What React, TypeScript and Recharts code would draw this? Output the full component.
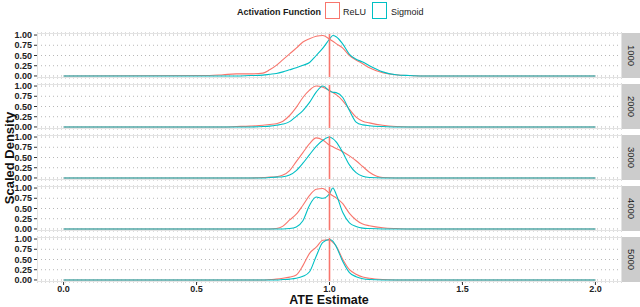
import React from "react";
import {
  LineChart,
  Line,
  XAxis,
  YAxis,
  CartesianGrid,
  ReferenceLine,
} from "recharts";

// ATE estimate grid (shared by every panel)
const X = [
  0, 0.55, 0.6, 0.65, 0.7, 0.75, 0.775, 0.8, 0.825, 0.85, 0.875, 0.9, 0.925,
  0.95, 0.975, 1.0, 1.0125, 1.025, 1.05, 1.075, 1.1, 1.125, 1.15, 1.2, 1.25,
  1.3, 1.35, 2.0,
];

const SAMPLE_SIZES = ["1000", "2000", "3000", "4000", "5000"];

// scaled densities
const RELU_1000 = [0, 0.01, 0.03, 0.05, 0.05, 0.07, 0.15, 0.26, 0.4, 0.54, 0.68, 0.83, 0.91, 0.97, 0.99, 0.9, 0.85, 0.79, 0.68, 0.5, 0.39, 0.3, 0.2, 0.08, 0.03, 0.01, 0, 0];
const SIG_1000 = [0, 0, 0, 0, 0.01, 0.02, 0.04, 0.06, 0.1, 0.15, 0.2, 0.26, 0.33, 0.5, 0.68, 0.9, 0.99, 0.96, 0.78, 0.53, 0.41, 0.34, 0.25, 0.1, 0.03, 0.01, 0, 0];
const RELU_2000 = [0, 0, 0, 0.01, 0.02, 0.04, 0.06, 0.08, 0.14, 0.28, 0.48, 0.72, 0.9, 1.0, 0.97, 0.89, 0.84, 0.79, 0.64, 0.43, 0.24, 0.14, 0.1, 0.04, 0.01, 0, 0, 0];
const SIG_2000 = [0, 0, 0, 0, 0, 0.01, 0.02, 0.04, 0.07, 0.13, 0.26, 0.4, 0.6, 0.85, 1.0, 0.88, 0.85, 0.84, 0.72, 0.4, 0.12, 0.05, 0.03, 0.01, 0, 0, 0, 0];
const RELU_3000 = [0, 0, 0, 0, 0, 0.01, 0.02, 0.03, 0.07, 0.18, 0.4, 0.62, 0.84, 0.98, 0.93, 0.8, 0.76, 0.72, 0.64, 0.54, 0.42, 0.28, 0.14, 0.01, 0, 0, 0, 0];
const SIG_3000 = [0, 0, 0, 0, 0, 0, 0.01, 0.02, 0.03, 0.07, 0.18, 0.36, 0.57, 0.77, 0.92, 1.0, 0.96, 0.88, 0.62, 0.32, 0.13, 0.04, 0.01, 0, 0, 0, 0, 0];
const RELU_4000 = [0, 0, 0, 0, 0, 0, 0, 0.01, 0.07, 0.22, 0.36, 0.58, 0.82, 0.97, 0.99, 0.87, 0.81, 0.76, 0.62, 0.38, 0.22, 0.12, 0.08, 0.03, 0.01, 0, 0, 0];
const SIG_4000 = [0, 0, 0, 0, 0, 0, 0, 0, 0, 0.01, 0.05, 0.2, 0.58, 0.78, 0.75, 0.86, 1.0, 0.85, 0.4, 0.15, 0.06, 0.02, 0.01, 0, 0, 0, 0, 0];
const RELU_5000 = [0, 0, 0, 0, 0, 0, 0.01, 0.02, 0.04, 0.07, 0.12, 0.35, 0.65, 0.8, 0.97, 0.98, 0.92, 0.83, 0.5, 0.25, 0.14, 0.07, 0.04, 0.01, 0, 0, 0, 0];
const SIG_5000 = [0, 0, 0, 0, 0, 0, 0, 0, 0.01, 0.02, 0.04, 0.09, 0.2, 0.58, 0.92, 0.99, 0.95, 0.82, 0.45, 0.18, 0.08, 0.03, 0.01, 0, 0, 0, 0, 0];

const RELU = [RELU_1000, RELU_2000, RELU_3000, RELU_4000, RELU_5000];
const SIG = [SIG_1000, SIG_2000, SIG_3000, SIG_4000, SIG_5000];

const X_TICKS = [0, 0.5, 1, 1.5, 2];
const Y_TICKS = [0, 0.25, 0.5, 0.75, 1];

const RED = "#F8766D";
const TEAL = "#00BFC4";
const FONT = "'Liberation Sans', Arial, Helvetica, sans-serif";

const TOP = 33;
const PANEL_H = 45;
const PITCH = 51;
const PLOT_L = 37;
const PLOT_R = 622;
const PAD = 6; // room so the 1.00 / 0.00 labels are not clipped

function Panel({ idx }: { idx: number }) {
  const last = idx === SAMPLE_SIZES.length - 1;
  const rows = X.map((x, i) => ({ x, relu: RELU[idx][i], sig: SIG[idx][i] }));
  const top = TOP + idx * PITCH;
  const tick = { fontSize: 9, fontWeight: 700, fill: "#222", fontFamily: FONT };
  return (
    <>
      <div style={{ position: "absolute", left: 0, top: top - PAD }}>
        <LineChart
          width={PLOT_R}
          height={PANEL_H + 2 * PAD + (last ? 16 : 0)}
          data={rows}
          margin={{ top: PAD, right: 0, bottom: PAD, left: 0 }}
        >
          <CartesianGrid vertical={false} stroke="#b8b8b8" strokeDasharray="1 3" />
          <XAxis
            type="number"
            dataKey="x"
            domain={[-0.1, 2.1]}
            ticks={X_TICKS}
            tickFormatter={(v: number) => v.toFixed(1)}
            hide={!last}
            height={16}
            tickSize={3}
            tickMargin={1}
            axisLine={false}
            tickLine={{ stroke: "#333" }}
            tick={tick}
            interval={0}
          />
          <YAxis
            type="number"
            domain={[-0.05, 1.05]}
            ticks={Y_TICKS}
            tickFormatter={(v: number) => v.toFixed(2)}
            width={PLOT_L}
            tickSize={3}
            tickMargin={2}
            axisLine={false}
            tickLine={{ stroke: "#333" }}
            tick={tick}
            interval={0}
          />
          <Line
            type="monotone"
            dataKey="relu"
            stroke={RED}
            strokeWidth={1.1}
            dot={false}
            activeDot={false}
            isAnimationActive={false}
          />
          <Line
            type="monotone"
            dataKey="sig"
            stroke={TEAL}
            strokeWidth={1.1}
            dot={false}
            activeDot={false}
            isAnimationActive={false}
          />
          <ReferenceLine x={1} stroke={RED} strokeWidth={1.6} ifOverflow="hidden" />
        </LineChart>
      </div>
      <div
        style={{
          position: "absolute",
          left: PLOT_L,
          top,
          width: PLOT_R - PLOT_L,
          height: PANEL_H,
          border: "1px solid #e3e3e3",
          boxSizing: "border-box",
          pointerEvents: "none",
        }}
      />
      <div
        style={{
          position: "absolute",
          left: PLOT_R,
          top,
          width: 640 - PLOT_R,
          height: PANEL_H,
          background: "#cccccc",
          display: "flex",
          alignItems: "center",
          justifyContent: "center",
          writingMode: "vertical-rl",
          fontFamily: FONT,
          fontSize: 9.5,
          color: "#1a1a1a",
        }}
      >
        {SAMPLE_SIZES[idx]}
      </div>
    </>
  );
}

export default function App() {
  return (
    <div
      style={{
        position: "absolute",
        left: 0,
        top: 0,
        width: 640,
        height: 307,
        background: "#fff",
        overflow: "hidden",
        fontFamily: FONT,
      }}
    >
      {SAMPLE_SIZES.map((_, i) => (
        <Panel key={i} idx={i} />
      ))}
      <svg
        width={640}
        height={307}
        style={{ position: "absolute", left: 0, top: 0, pointerEvents: "none" }}
        fontFamily={FONT}
      >
        <text x={237} y={14.5} fontSize={9} fontWeight={700} fill="#1a1a1a">
          Activation Function
        </text>
        <rect x={325.5} y={2.5} width={14} height={16} fill="#fff" stroke={RED} strokeWidth={1} />
        <text x={343} y={14.5} fontSize={9} fill="#1a1a1a">
          ReLU
        </text>
        <rect x={372.5} y={2.5} width={14} height={16} fill="#fff" stroke={TEAL} strokeWidth={1} />
        <text x={391} y={14.5} fontSize={9} fill="#1a1a1a">
          Sigmoid
        </text>
        <text
          x={9}
          y={158}
          fontSize={13}
          fontWeight={700}
          textAnchor="middle"
          dominantBaseline="central"
          transform="rotate(-90 9 158)"
          fill="#111"
        >
          Scaled Density
        </text>
        <text x={329} y={304} fontSize={12.5} fontWeight={700} textAnchor="middle" fill="#111">
          ATE Estimate
        </text>
      </svg>
    </div>
  );
}
